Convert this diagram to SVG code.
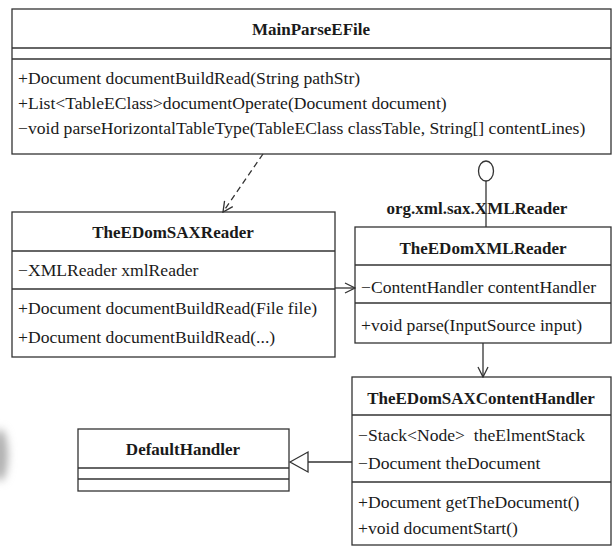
<svg xmlns="http://www.w3.org/2000/svg" width="615" height="548" viewBox="0 0 615 548">
  <style>
    .box { fill: #fff; stroke: #333; stroke-width: 1.3; }
    .sep { stroke: #333; stroke-width: 1.3; fill: none; }
    .title { font-family: "Liberation Serif", "Times New Roman", serif; font-weight: bold; font-size: 17px; fill: #1a1a1a; text-anchor: middle; }
    .member { font-family: "Liberation Serif", "Times New Roman", serif; font-size: 17.6px; fill: #1a1a1a; }
    .conn { stroke: #333; stroke-width: 1.3; fill: none; }
  </style>
  <defs>
    <marker id="open" viewBox="0 0 12 12" refX="11" refY="6" markerWidth="12" markerHeight="12" markerUnits="userSpaceOnUse" orient="auto">
      <path d="M1,1 L11,6 L1,11" fill="none" stroke="#333" stroke-width="1.3"/>
    </marker>
    <filter id="soft" x="-1" y="-1" width="3" height="3">
      <feGaussianBlur stdDeviation="4"/>
    </filter>
  </defs>

  <rect width="615" height="548" fill="#fff"/>
  <!-- faint smudge at left edge -->
  <ellipse cx="0" cy="455" rx="8" ry="26" fill="#b0b0b0" filter="url(#soft)"/>

  <g id="MainParseEFile">
    <rect class="box" x="12" y="9" width="599" height="145"/>
    <line class="sep" x1="12" y1="48" x2="611" y2="48"/>
    <line class="sep" x1="12" y1="59" x2="611" y2="59"/>
    <text class="title" x="311" y="35">MainParseEFile</text>
    <text class="member" x="18" y="84">+Document documentBuildRead(String pathStr)</text>
    <text class="member" x="18" y="109">+List&lt;TableEClass&gt;documentOperate(Document document)</text>
    <text class="member" x="18" y="134">−void parseHorizontalTableType(TableEClass classTable, String[] contentLines)</text>
  </g>

  <g id="TheEDomSAXReader">
    <rect class="box" x="12" y="212" width="323" height="145"/>
    <line class="sep" x1="12" y1="251" x2="335" y2="251"/>
    <line class="sep" x1="12" y1="289" x2="335" y2="289"/>
    <text class="title" x="173" y="238">TheEDomSAXReader</text>
    <text class="member" x="18" y="276">−XMLReader xmlReader</text>
    <text class="member" x="18" y="314">+Document documentBuildRead(File file)</text>
    <text class="member" x="18" y="343">+Document documentBuildRead(...)</text>
  </g>

  <g id="XMLReaderInterface">
    <ellipse class="conn" cx="486" cy="171" rx="7.5" ry="10"/>
    <text class="title" x="477" y="214">org.xml.sax.XMLReader</text>
  </g>

  <g id="TheEDomXMLReader">
    <rect class="box" x="355" y="227" width="256" height="116"/>
    <line class="sep" x1="355" y1="265" x2="611" y2="265"/>
    <line class="sep" x1="355" y1="303" x2="611" y2="303"/>
    <text class="title" x="483" y="254">TheEDomXMLReader</text>
    <text class="member" x="361" y="293">−ContentHandler contentHandler</text>
    <text class="member" x="361" y="331">+void parse(InputSource input)</text>
  </g>

  <g id="TheEDomSAXContentHandler">
    <rect class="box" x="352" y="377" width="259" height="168"/>
    <line class="sep" x1="352" y1="415" x2="611" y2="415"/>
    <line class="sep" x1="352" y1="482" x2="611" y2="482"/>
    <text class="title" x="481" y="404">TheEDomSAXContentHandler</text>
    <text class="member" x="358" y="441">−Stack&lt;Node&gt;&#160; theElmentStack</text>
    <text class="member" x="358" y="469">−Document theDocument</text>
    <text class="member" x="358" y="508">+Document getTheDocument()</text>
    <text class="member" x="358" y="534">+void documentStart()</text>
  </g>

  <g id="DefaultHandler">
    <rect class="box" x="78" y="429" width="211" height="62"/>
    <line class="sep" x1="78" y1="468" x2="289" y2="468"/>
    <line class="sep" x1="78" y1="479" x2="289" y2="479"/>
    <text class="title" x="183" y="455">DefaultHandler</text>
  </g>

  <g id="connectors">
    <!-- dependency: MainParseEFile uses TheEDomSAXReader -->
    <line class="conn" x1="263" y1="154" x2="223" y2="212" stroke-dasharray="6,4" marker-end="url(#open)"/>
    <!-- lollipop stem -->
    <line class="conn" x1="486" y1="181" x2="486" y2="227"/>
    <!-- association: reader to xml reader -->
    <line class="conn" x1="335" y1="288" x2="355" y2="288" marker-end="url(#open)"/>
    <!-- association: xml reader to content handler -->
    <line class="conn" x1="483" y1="343" x2="483" y2="377" marker-end="url(#open)"/>
    <!-- generalization: content handler extends DefaultHandler -->
    <line class="conn" x1="352" y1="462" x2="308" y2="462"/>
    <polygon class="conn" points="290,462 308,452 308,472"/>
  </g>
</svg>
